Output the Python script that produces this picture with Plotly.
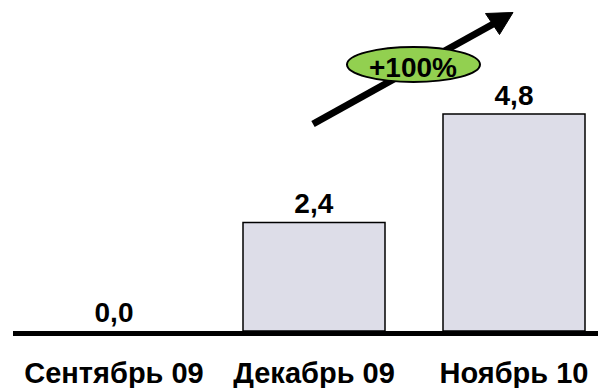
import plotly.graph_objects as go

# Volume by period
periods = ["Сентябрь 09", "Декабрь 09", "Ноябрь 10"]
values = [0.0, 2.4, 4.8]
growth_label = "+100%"

bar_fill = "#dddde8"
growth_green = "#92d050"
font_family = "Liberation Sans, Arial, sans-serif"

W, H_PLOT = 598, 331


def px(x):
    # horizontal pixel -> paper fraction
    return x / W


def py(y):
    # vertical pixel (from top) -> paper fraction of the plot area
    return (H_PLOT - y) / H_PLOT


fig = go.Figure()

# Empty bars get no outline so the baseline stays clean
outline_widths = [1.5 if v > 0 else 0 for v in values]

fig.add_trace(go.Bar(
    x=list(range(len(periods))),
    y=values,
    width=0.71,
    marker=dict(color=bar_fill, line=dict(color="black", width=outline_widths)),
    texttemplate="<b>%{y:.1f}</b>",
    textposition="outside",
    textfont=dict(family=font_family, size=28, color="black"),
    constraintext="none",
    cliponaxis=False,
    hoverinfo="skip",
))

# Thick baseline along the category axis
fig.add_shape(type="line", xref="paper", yref="paper",
              x0=px(13), x1=1, y0=py(333.5), y1=py(333.5),
              line=dict(color="black", width=5))

# Growth arrow: shaft and head
fig.add_shape(type="line", xref="paper", yref="paper",
              x0=px(313), y0=py(124), x1=px(495), y1=py(23),
              line=dict(color="black", width=7))
head = (f"M {px(513)} {py(12.5)} L {px(485.5)} {py(13.5)} "
        f"L {px(499.5)} {py(34.5)} Z")
fig.add_shape(type="path", xref="paper", yref="paper", path=head,
              fillcolor="black", line=dict(color="black", width=1))

# Green badge with the growth rate
fig.add_shape(type="circle", xref="paper", yref="paper",
              x0=px(347), x1=px(480), y0=py(82), y1=py(47),
              fillcolor=growth_green, line=dict(color="black", width=2))
fig.add_annotation(
    xref="paper", yref="paper",
    x=px(413), y=py(68), xanchor="center", yanchor="middle",
    text=f"<b>{growth_label}</b>", showarrow=False,
    font=dict(family=font_family, size=28, color="black"),
)

fig.update_layout(
    width=598, height=388,
    margin=dict(l=0, r=0, t=0, b=57),
    paper_bgcolor="white", plot_bgcolor="white",
    separators=", ",
    showlegend=False,
    xaxis=dict(
        range=[-0.57, 2.42],
        tickmode="array",
        tickvals=list(range(len(periods))),
        ticktext=[f"<b>{p}</b>" for p in periods],
        tickfont=dict(family=font_family, size=29, color="black"),
        ticks="outside", ticklen=16, tickcolor="rgba(0,0,0,0)",
        showgrid=False, zeroline=False, showline=False,
        fixedrange=True,
    ),
    yaxis=dict(
        range=[0, 7.32],
        visible=False,
        showgrid=False, zeroline=False,
        fixedrange=True,
    ),
)

fig.write_html("out.html")
